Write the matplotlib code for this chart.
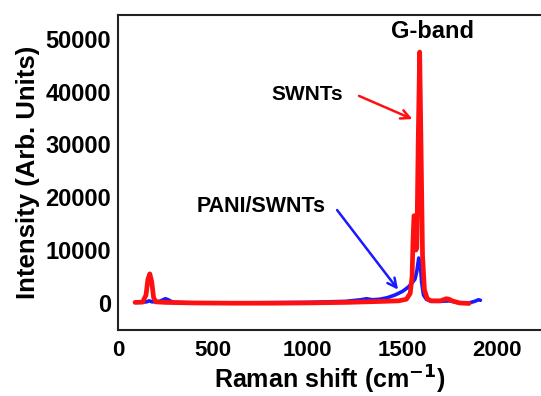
import matplotlib
matplotlib.use("Agg")
import matplotlib.pyplot as plt

plt.rcParams['font.family'] = ['Liberation Sans', 'DejaVu Sans']
plt.rcParams['font.weight'] = 'bold'

# SWNTs spectrum (red)
swnt_shift = [90, 130, 148, 158, 168, 178, 188, 200, 250, 400, 600, 800, 1000,
              1200, 1300, 1400, 1480, 1520, 1540, 1550, 1555, 1560, 1565, 1570,
              1575, 1582, 1590, 1597, 1605, 1615, 1630, 1650, 1700, 1730, 1745,
              1760, 1800, 1850]
swnt_int = [100, 150, 1500, 4500, 5500, 4000, 1000, 200, 100, 0, -50, -50, 0,
            100, 200, 300, 400, 700, 1800, 5000, 12000, 16500, 16500, 10000,
            10500, 30000, 47500, 30000, 9000, 2500, 800, 400, 400, 800, 700,
            400, 0, -100]

# PANI/SWNTs spectrum (blue)
pani_shift = [100, 150, 165, 180, 220, 250, 265, 280, 300, 400, 600, 800, 1000,
              1200, 1280, 1310, 1340, 1380, 1420, 1460, 1500, 1530, 1550, 1565,
              1575, 1585, 1592, 1600, 1610, 1625, 1650, 1700, 1750, 1800, 1850,
              1880, 1900, 1910]
pani_int = [100, 200, 400, 200, 300, 800, 600, 300, 100, 0, 0, 50, 100,
            300, 600, 800, 600, 700, 1000, 1500, 2200, 3000, 3800, 4500,
            6000, 8500, 8000, 4000, 1500, 700, 300, 300, 400, 0, 0,
            300, 600, 500]

xticks = [0, 500, 1000, 1500, 2000]
yticks = [0, 10000, 20000, 30000, 40000, 50000]

fig = plt.figure(figsize=(5.41, 3.96), dpi=100)
ax = fig.add_axes([0.218, 0.167, 0.784, 0.795])

ax.plot(pani_shift, pani_int, color='#1a1aff', lw=2.6, solid_capstyle='round')
ax.plot(swnt_shift, swnt_int, color='#ff1010', lw=3.4, solid_capstyle='round')

ax.set_xlim(0, 2235)
ax.set_ylim(-5100, 54500)
ax.set_xticks(xticks)
ax.set_yticks(yticks)
ax.tick_params(length=0)
ax.tick_params(axis='x', pad=7, labelsize=16)
ax.tick_params(axis='y', pad=5, labelsize=17)
for lab in ax.get_xticklabels() + ax.get_yticklabels():
    lab.set_fontweight('bold')
for sp in ax.spines.values():
    sp.set_linewidth(1.5)
    sp.set_color('#222222')

ax.set_xlabel('Raman shift (cm$^{\\mathbf{-1}}$)', fontsize=18, fontweight='bold', labelpad=2)
ax.set_ylabel('Intensity (Arb. Units)', fontsize=18.5, fontweight='bold', labelpad=4)

ax.text(1660, 51300, 'G-band', ha='center', va='center', fontsize=17, fontweight='bold')
ax.text(1000, 39500, 'SWNTs', ha='center', va='center', fontsize=15, fontweight='bold')
ax.text(755, 18200, 'PANI/SWNTs', ha='center', va='center', fontsize=15.5, fontweight='bold')

ax.annotate('', xy=(1565, 34600), xytext=(1257, 39400),
            arrowprops=dict(arrowstyle='->', color='#ff1010', lw=1.8, mutation_scale=16))
ax.annotate('', xy=(1485, 2100), xytext=(1146, 18000),
            arrowprops=dict(arrowstyle='->', color='#1a1aff', lw=1.8, mutation_scale=16))

fig.savefig('out.png', dpi=100)
